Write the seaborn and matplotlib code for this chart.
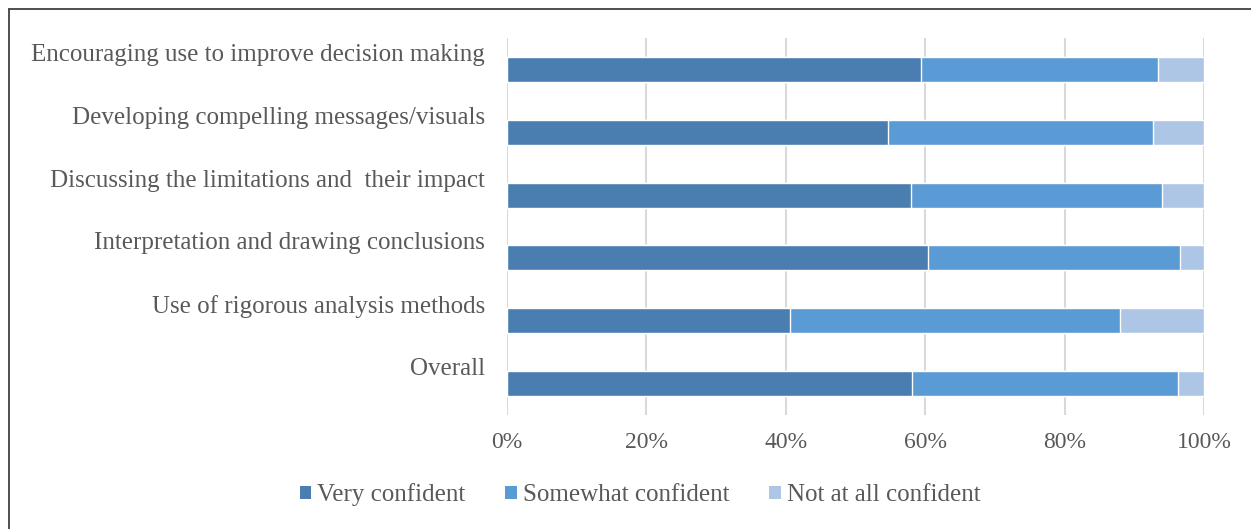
import seaborn as sns
import numpy as np
import matplotlib.pyplot as plt
import matplotlib.transforms as mtransforms
import pandas as pd
from matplotlib.patches import Patch
from matplotlib.lines import Line2D

categories = [
    "Encouraging use to improve decision making",
    "Developing compelling messages/visuals",
    "Discussing the limitations and  their impact",
    "Interpretation and drawing conclusions",
    "Use of rigorous analysis methods",
    "Overall",
]
very = [59.4, 54.6, 57.9, 60.4, 40.6, 58.1]
somewhat = [34.0, 38.1, 36.1, 36.1, 47.4, 38.1]
not_at_all = [6.6, 7.3, 6.0, 3.5, 12.0, 3.8]

series_names = ["Very confident", "Somewhat confident", "Not at all confident"]
colors = ["#4A7EB0", "#5B9BD5", "#ADC6E5"]
tick_labels = ["0%", "20%", "40%", "60%", "80%", "100%"]

df = pd.DataFrame({
    "category": categories,
    "very": very,
    "somewhat": somewhat,
    "not_at_all": not_at_all,
})
df["cum1"] = df["very"]
df["cum2"] = df["very"] + df["somewhat"]
df["cum3"] = df["cum2"] + df["not_at_all"]

sns.set_theme(style="white")
plt.rcParams["font.family"] = ["Liberation Serif", "DejaVu Serif"]
text_color = "#595959"

fig = plt.figure(figsize=(12.51, 5.29), dpi=100)
ax = fig.add_axes([507 / 1251, 1 - 415 / 529, 697 / 1251, 377 / 529])

# stacked by overdrawing cumulative totals
for col, c in zip(["cum3", "cum2", "cum1"], colors[::-1]):
    sns.barplot(data=df, x=col, y="category", color=c, orient="h",
                width=0.4, saturation=1, ax=ax, zorder=3)

ax.set_xlim(0, 100)
ax.set_ylim(5.5, -0.5)
ax.set_xticks(np.arange(0, 101, 20))
ax.set_xticklabels(tick_labels)
ax.xaxis.grid(True, color="#D9D9D9", linewidth=1.5, zorder=0)
ax.set_axisbelow(True)
for s in ax.spines.values():
    s.set_visible(False)
ax.set_xlabel("")
ax.set_ylabel("")
ax.tick_params(axis="x", length=0, pad=12, labelsize=17, labelcolor=text_color)
ax.tick_params(axis="y", length=0, pad=16, labelsize=18, labelcolor=text_color)

# category labels sit above bar centres
offset = mtransforms.ScaledTranslation(0, 0.17, fig.dpi_scale_trans)
for lbl in ax.get_yticklabels():
    lbl.set_transform(lbl.get_transform() + offset)

handles = [Patch(facecolor=c, edgecolor="none") for c in colors]
fig.legend(handles, series_names, loc="center", bbox_to_anchor=(640 / 1251, 1 - 495 / 529),
           ncol=3, frameon=False, fontsize=18, handlelength=0.45, handleheight=0.45,
           handletextpad=0.25, columnspacing=1.6, labelcolor=text_color)

# chart frame: only top and left edges show in the crop
top = 1 - 8.5 / 529
left = 8.5 / 1251
fig.lines.append(Line2D([left, 1], [top, top], transform=fig.transFigure,
                        color="#404040", linewidth=1.3))
fig.lines.append(Line2D([left, left], [0, top], transform=fig.transFigure,
                        color="#404040", linewidth=1.3))

fig.savefig("out.png", dpi=100)
